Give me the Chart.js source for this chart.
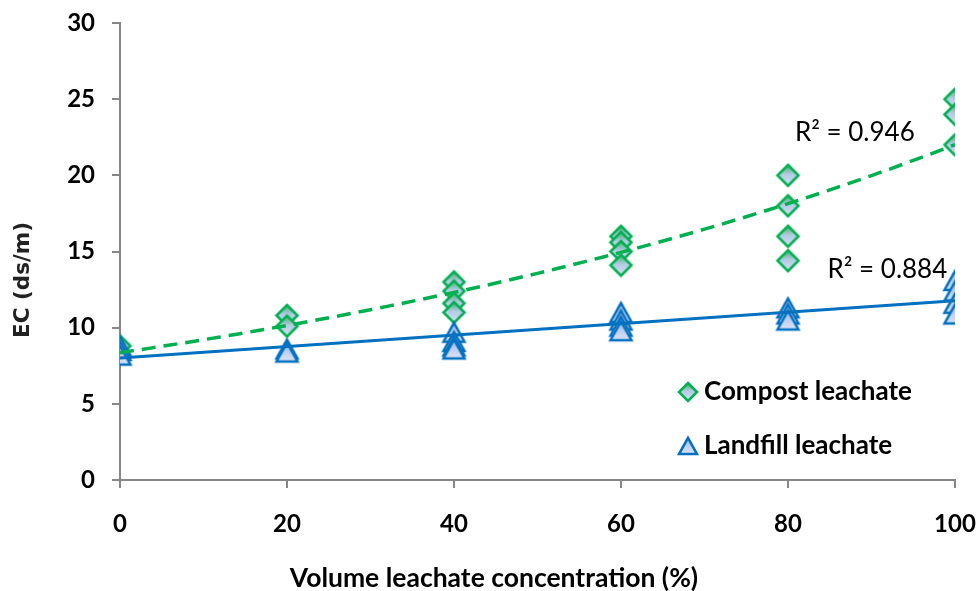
<!DOCTYPE html>
<html>
<head>
<meta charset="utf-8">
<script src="https://cdn.jsdelivr.net/npm/chart.js@4.4.1/dist/chart.umd.min.js"></script>
<style>
  html, body { margin: 0; padding: 0; background: #ffffff; }
  #wrap { width: 979px; height: 591px; }
</style>
</head>
<body>
<div id="wrap"><canvas id="c" width="979" height="591"></canvas></div>
<script>
// EC measured at each volume concentration of leachate (replicates share an x value)
const compostX  = [0, 20, 20, 40, 40, 40, 40, 60, 60, 60, 60, 80, 80, 80, 80, 100, 100, 100];
const compostEC = [8.8, 10.8, 10.1, 13.0, 12.4, 11.6, 11.0, 16.0, 15.6, 15.0, 14.1, 20.0, 18.0, 16.0, 14.4, 25.0, 24.0, 22.0];
const landfillX  = [0, 0, 0, 20, 20, 40, 40, 40, 40, 60, 60, 60, 60, 80, 80, 80, 100, 100, 100, 100];
const landfillEC = [8.8, 8.5, 8.2, 8.6, 8.4, 9.7, 9.1, 8.8, 8.6, 11.0, 10.5, 10.1, 9.8, 11.3, 10.9, 10.5, 13.1, 12.4, 11.6, 10.9];
const seriesNames = ['Compost leachate', 'Landfill leachate'];
const r2Labels = ['R\u00B2 = 0.946', 'R\u00B2 = 0.884'];
// where each R² note sits, in data units
const r2AnchorX = [88, 91.9];
const r2AnchorY = [22.8, 13.8];
const xTitle = 'Volume leachate concentration (%)';
const yTitle = 'EC (ds/m)';

const GREEN = '#00b050';
const BLUE = '#0070c0';
const AXIS = '#868686';

// least-squares line
function linFit(xs, ys) {
  const n = xs.length;
  let sx = 0, sy = 0, sxx = 0, sxy = 0;
  for (let i = 0; i < n; i++) { sx += xs[i]; sy += ys[i]; sxx += xs[i] * xs[i]; sxy += xs[i] * ys[i]; }
  const b = (n * sxy - sx * sy) / (n * sxx - sx * sx);
  return { b, a: (sy - b * sx) / n };
}
// exponential trend y = A·e^(Bx), fitted on ln(y)
function expFit(xs, ys) {
  const f = linFit(xs, ys.map(v => Math.log(v)));
  return { A: Math.exp(f.a), B: f.b };
}

const toPoints = (xs, ys) => xs.map((x, i) => ({ x, y: ys[i] }));

const ef = expFit(compostX, compostEC);
const compostTrend = [];
for (let x = 0; x <= 100; x += 2) compostTrend.push({ x, y: ef.A * Math.exp(ef.B * x) });
const lf = linFit(landfillX, landfillEC);
const landfillTrend = [0, 100].map(x => ({ x, y: lf.a + lf.b * x }));

// marker sprites with a soft vertical gradient fill
function makeMarker(kind, r) {
  const s = Math.ceil(r * 2 + 6);
  const c = document.createElement('canvas');
  c.width = s; c.height = s;
  const g = c.getContext('2d');
  const m = s / 2;
  g.beginPath();
  let grad;
  if (kind === 'diamond') {
    g.moveTo(m, m - r); g.lineTo(m + r, m); g.lineTo(m, m + r); g.lineTo(m - r, m);
    grad = g.createLinearGradient(0, m - r, 0, m + r);
    grad.addColorStop(0, '#3fae62');
    grad.addColorStop(0.45, '#b3cbe4');
    grad.addColorStop(1, '#d9e0f6');
  } else {
    const h = r * 0.9;
    g.moveTo(m, m - h); g.lineTo(m + r, m + h); g.lineTo(m - r, m + h);
    grad = g.createLinearGradient(0, m - h, 0, m + h);
    grad.addColorStop(0, '#9db6e6');
    grad.addColorStop(1, '#dde5f7');
  }
  g.closePath();
  g.fillStyle = grad;
  g.fill();
  g.lineWidth = 2.5;
  g.lineJoin = 'miter';
  g.strokeStyle = kind === 'diamond' ? GREEN : BLUE;
  g.stroke();
  return c;
}
const diamondImg = makeMarker('diamond', 10.5);
const triangleImg = makeMarker('triangle', 10.5);
const diamondSmall = makeMarker('diamond', 9);
const triangleSmall = makeMarker('triangle', 9);

// axis titles, legend and R² notes
const annotations = {
  id: 'annotations',
  afterDraw(chart) {
    const { ctx, scales: { x, y } } = chart;
    ctx.save();
    ctx.fillStyle = '#000';

    // axis titles
    ctx.textAlign = 'center';
    ctx.textBaseline = 'alphabetic';
    ctx.font = 'bold 26.5px Lato';
    ctx.fillText(xTitle, 494, 587);
    ctx.save();
    ctx.translate(28.5, 280);
    ctx.rotate(-Math.PI / 2);
    ctx.fillStyle = '#222';
    ctx.font = 'bold 21.5px "DejaVu Sans"';
    ctx.fillText(yTitle, 0, 0);
    ctx.restore();

    // legend
    ctx.textBaseline = 'middle';
    ctx.font = 'bold 26px Lato';
    ctx.textAlign = 'left';
    const items = [[diamondSmall, seriesNames[0], 392], [triangleSmall, seriesNames[1], 446]];
    items.forEach(([img, text, yy]) => {
      ctx.drawImage(img, 688 - img.width / 2, yy - img.height / 2);
      ctx.fillText(text, 704, yy);
    });

    // R² notes
    ctx.font = '26px Lato';
    ctx.textAlign = 'center';
    r2Labels.forEach((t, i) => {
      ctx.fillText(t, x.getPixelForValue(r2AnchorX[i]), y.getPixelForValue(r2AnchorY[i]));
    });
    ctx.restore();
  }
};

new Chart(document.getElementById('c'), {
  type: 'scatter',
  data: {
    datasets: [
      { type: 'line', label: 'compost trend', data: compostTrend, borderColor: GREEN, borderWidth: 3.5,
        borderDash: [14, 8], pointRadius: 0, fill: false, tension: 0, order: 0 },
      { type: 'line', label: 'landfill trend', data: landfillTrend, borderColor: BLUE, borderWidth: 3,
        pointRadius: 0, fill: false, tension: 0, order: 0 },
      { label: seriesNames[1], data: toPoints(landfillX, landfillEC), pointStyle: triangleImg, order: 1 },
      { label: seriesNames[0], data: toPoints(compostX, compostEC), pointStyle: diamondImg, order: 2 }
    ]
  },
  options: {
    responsive: false,
    animation: false,
    devicePixelRatio: 1,
    layout: { padding: { top: 23, right: 24, left: 0, bottom: 0 } },
    plugins: { legend: { display: false }, tooltip: { enabled: false } },
    scales: {
      x: {
        type: 'linear', min: 0, max: 100,
        afterFit: s => { s.height = 111; s.paddingLeft = 0; s.paddingRight = 0; },
        ticks: { stepSize: 20, color: '#000', padding: 22, font: { family: 'Lato', weight: 'bold', size: 24 } },
        grid: { drawOnChartArea: false, drawTicks: true, tickLength: 8, color: AXIS, lineWidth: 2 },
        border: { display: true, color: AXIS, width: 2 }
      },
      y: {
        min: 0, max: 30,
        afterFit: s => { s.width = 120; s.paddingTop = 0; s.paddingBottom = 0; },
        ticks: { stepSize: 5, color: '#000', padding: 17, font: { family: 'Lato', weight: 'bold', size: 24 } },
        grid: { drawOnChartArea: false, drawTicks: true, tickLength: 8, color: AXIS, lineWidth: 2 },
        border: { display: true, color: AXIS, width: 2 }
      }
    }
  },
  plugins: [annotations]
});
</script>
</body>
</html>
